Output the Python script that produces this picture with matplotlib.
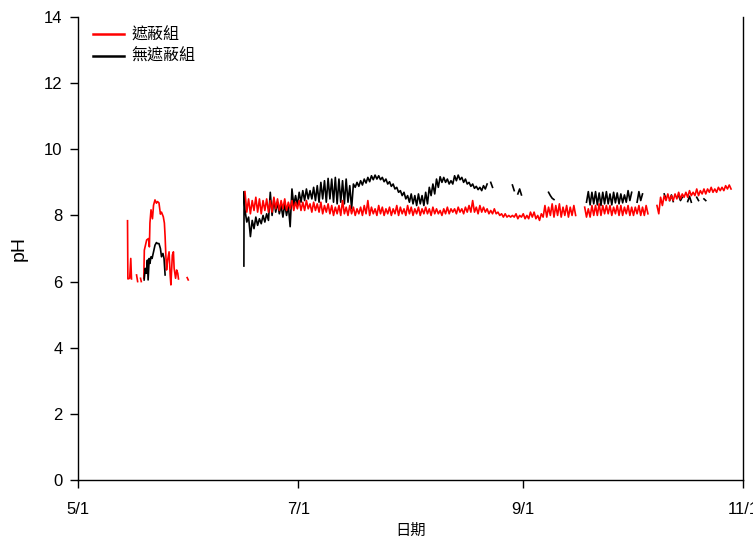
import numpy as np
import matplotlib
matplotlib.use("Agg")
import matplotlib.pyplot as plt

plt.rcParams["font.family"] = ["Liberation Sans", "Noto Sans CJK TC", "DejaVu Sans"]

nan = np.nan

# day offsets counted from 5/1
START = np.datetime64("2000-05-01")
tick_dates = ["2000-05-01", "2000-07-01", "2000-09-01", "2000-11-01"]
tick_labels = ["5/1", "7/1", "9/1", "11/1"]
legend_names = ["遮蔽組", "無遮蔽組"]

# early readings (May), NaN splits the broken pieces
red_early_day = [13.7, 13.8, 14.3, 14.6, 14.8, nan, 16.2, 16.5, nan, 17.3, 17.5, nan,
                 18.2, 18.35, 19.0, 19.5, 19.75, 19.9, 20.2, 20.6, 20.9, 21.3, 21.7,
                 22.0, 22.4, 22.8, 23.1, 23.6, 23.9, 24.1, 24.3, 24.5, 24.8, 25.2,
                 25.5, 25.7, 26.1, 26.4, 26.6, 27.0, 27.3, 27.6, 27.8, nan, 30.2, 30.5]
red_early_ph = [7.84, 6.08, 6.1, 6.7, 6.08, nan, 6.2, 6.0, nan, 6.1, 6.0, nan,
                6.1, 6.95, 7.26, 7.3, 7.05, 7.77, 8.17, 7.9, 8.31, 8.47, 8.37,
                8.42, 8.38, 8.04, 8.1, 7.96, 7.77, 7.36, 6.8, 6.35, 6.65, 6.9,
                6.2, 5.9, 6.8, 6.9, 6.4, 6.1, 6.35, 6.25, 6.08, nan, 6.12, 6.05]

black_early_day = [18.3, 18.6, 18.9, 19.2, 19.4, 19.7, 19.9, 20.2, 20.5, 20.9, 21.3,
                   21.7, 22.0, 22.4, 22.8, 23.1, 23.5, 23.8, 24.1]
black_early_ph = [6.05, 6.4, 6.25, 6.65, 6.05, 6.7, 6.55, 6.75, 6.7, 6.9, 7.1,
                  7.18, 7.15, 7.15, 7.0, 6.75, 6.85, 6.7, 6.2]

# continuous logging from day 46 (6/16): daily high / low
red_first_day = 46
red_hi = [8.72, 8.5, 8.45, 8.55, 8.5, 8.45, 8.5, 8.45, 8.55, 8.5,
          8.45, 8.5, 8.4, 8.45, 8.4, 8.45, 8.4, 8.45, 8.35, 8.4,
          8.35, 8.4, 8.3, 8.35, 8.3, 8.25, 8.3, 8.45, 8.25, 8.3,
          8.25, 8.2, 8.25, 8.3, 8.45, 8.25, 8.2, 8.3, 8.25, 8.2,
          8.25, 8.2, 8.3, 8.25, 8.2, 8.3, 8.25, 8.2, 8.25, 8.2,
          8.25, 8.2, 8.25, 8.2, 8.15, 8.2, 8.25, 8.2, 8.2, 8.25,
          8.2, 8.25, 8.3, 8.45, 8.25, 8.3, 8.25, 8.2, 8.15, 8.2,
          8.1, 8.05, 8.05, 8.0, 8.0, 8.05, 8.0, 8.05, 8.0, 8.1,
          8.1, 8.0, 8.05, 8.3, 8.25, 8.35, 8.3, 8.35, 8.25, 8.3,
          8.25, 8.3, nan, nan, 8.25, 8.2, 8.3, 8.3, 8.35, 8.3,
          8.3, 8.3, 8.25, 8.3, 8.3, 8.25, 8.3, 8.25, 8.25, 8.3,
          8.25, 8.3, nan, nan, 8.3, 8.55, 8.6, 8.65, 8.6, 8.65,
          8.7, 8.65, 8.7, 8.75, 8.7, 8.8, 8.75, 8.8, 8.8, 8.85,
          8.8, 8.85, 8.85, 8.9, 8.92]
red_lo = [8.1, 8.05, 8.15, 8.1, 8.05, 8.15, 8.1, 8.1, 8.2, 8.15,
          8.2, 8.15, 8.2, 8.15, 8.2, 8.15, 8.15, 8.2, 8.1, 8.15,
          8.1, 8.05, 8.1, 8.05, 8.0, 8.05, 8.0, 8.05, 8.0, 8.05,
          8.0, 8.05, 8.0, 8.05, 8.0, 8.05, 8.0, 8.05, 8.0, 8.05,
          8.0, 8.05, 8.0, 8.05, 8.0, 8.05, 8.0, 8.05, 8.0, 8.05,
          8.05, 8.0, 8.05, 8.05, 8.0, 8.05, 8.05, 8.1, 8.05, 8.1,
          8.05, 8.1, 8.1, 8.1, 8.05, 8.1, 8.1, 8.05, 8.05, 8.05,
          8.0, 7.95, 7.95, 7.95, 7.95, 7.9, 7.95, 7.9, 7.9, 7.95,
          7.9, 7.85, 7.95, 7.95, 8.0, 7.95, 8.0, 7.95, 8.0, 7.95,
          8.0, 8.0, nan, nan, 7.95, 7.95, 8.0, 8.0, 8.0, 8.05,
          8.05, 8.0, 8.05, 8.0, 8.0, 8.05, 8.0, 8.0, 8.05, 8.0,
          8.0, 8.05, nan, nan, 8.05, 8.3, 8.45, 8.45, 8.45, 8.5,
          8.5, 8.55, 8.55, 8.6, 8.6, 8.6, 8.65, 8.65, 8.7, 8.7,
          8.7, 8.75, 8.75, 8.8, 8.8]

black_start_ph = [6.47, 8.72]
black_first_day = 46
black_hi = [8.16, 7.95, 7.85, 7.95, 7.9, 8.0, 8.05, 8.7, 8.5, 8.4,
            8.3, 8.35, 8.3, 8.8, 8.6, 8.7, 8.75, 8.8, 8.75, 8.85,
            8.9, 9.0, 9.05, 9.12, 9.1, 9.15, 9.1, 9.05, 9.1, 8.9,
            8.95, 9.0, 9.05, 9.1, 9.15, 9.2, 9.22, 9.2, 9.15, 9.1,
            9.02, 8.95, 8.85, 8.75, 8.7, 8.6, 8.65, 8.6, 8.65, 8.6,
            8.7, 8.85, 8.95, 9.1, 9.17, 9.15, 9.1, 9.05, 9.2, 9.22,
            9.15, 9.1, 9.0, 8.95, 8.88, 8.85, 8.9, 8.95, 9.0, nan,
            nan, nan, nan, nan, 8.92, nan, 8.8, nan, nan, nan,
            nan, nan, nan, nan, 8.7, 8.52, nan, nan, nan, nan,
            nan, nan, nan, nan, nan, 8.72, 8.7, 8.72, 8.68, 8.7,
            8.72, 8.65, 8.7, 8.68, 8.65, 8.62, 8.75, 8.7, nan, 8.72,
            8.65, nan, nan, nan, nan, 8.6, 8.65, nan, 8.62, nan,
            8.6, 8.55, nan, 8.58, nan, 8.55, nan, 8.5, nan]
black_lo = [7.8, 7.36, 7.6, 7.7, 7.75, 7.8, 7.85, 8.0, 8.1, 8.05,
            7.95, 8.0, 7.66, 8.3, 8.3, 8.4, 8.45, 8.5, 8.5, 8.45,
            8.4, 8.5, 8.4, 8.5, 8.4, 8.35, 8.4, 8.35, 8.4, 8.2,
            8.85, 8.88, 8.92, 8.98, 9.02, 9.08, 9.1, 9.08, 9.02, 8.95,
            8.88, 8.8, 8.7, 8.6, 8.5, 8.4, 8.35, 8.3, 8.35, 8.3,
            8.35, 8.6, 8.65, 8.85, 9.0, 9.0, 8.95, 8.95, 9.05, 9.08,
            9.0, 8.95, 8.88, 8.82, 8.78, 8.75, 8.8, nan, 8.85, nan,
            nan, nan, nan, nan, 8.75, 8.65, 8.62, nan, nan, nan,
            nan, nan, nan, nan, 8.6, 8.48, nan, nan, nan, nan,
            nan, nan, nan, nan, 8.4, 8.32, 8.35, 8.32, 8.3, 8.35,
            8.35, 8.32, 8.38, 8.35, 8.38, 8.4, 8.45, nan, 8.4, 8.45,
            nan, 8.5, nan, nan, nan, nan, 8.5, 8.45, 8.42, nan,
            8.45, nan, 8.42, 8.4, nan, 8.45, nan, 8.45, 8.45]


def daily_series(first_day, hi, lo):
    days = first_day + np.arange(len(hi))
    t = np.column_stack([days + 0.2, days + 0.7]).ravel()
    v = np.column_stack([hi, lo]).ravel()
    return t, v


red_t, red_v = daily_series(red_first_day, red_hi, red_lo)
black_t, black_v = daily_series(black_first_day, black_hi, black_lo)
black_t = np.concatenate([[black_first_day - 0.1, black_first_day - 0.05], black_t])
black_v = np.concatenate([black_start_ph, black_v])

tick_pos = [(np.datetime64(d) - START).astype(int) for d in tick_dates]

fig = plt.figure(figsize=(7.53, 5.40), dpi=100)
ax = fig.add_axes([0.1036, 0.1111, 0.8831, 0.8574])

ax.plot(red_early_day, red_early_ph, color="#ff0000", lw=1.2)
ax.plot(black_early_day, black_early_ph, color="black", lw=1.2)
ax.plot(black_t, black_v, color="black", lw=1.2)
ax.plot(red_t, red_v, color="#ff0000", lw=1.2)

ax.set_xlim(tick_pos[0], tick_pos[-1])
ax.set_ylim(0, 14)
ax.set_xticks(tick_pos)
ax.set_xticklabels(tick_labels)
ax.set_yticks(np.arange(0, 15, 2))
ax.tick_params(direction="out", length=6, width=1, labelsize=12, colors="black")
ax.tick_params(axis="x", pad=10)
ax.tick_params(axis="y", pad=5)

ax.spines["top"].set_visible(False)
for side in ["left", "bottom", "right"]:
    ax.spines[side].set_linewidth(1)

ax.set_ylabel("pH", fontsize=14, labelpad=12)
ax.set_xlabel("日期", fontsize=11, labelpad=3, family=["Noto Sans CJK TC", "DejaVu Sans"])

handles = [plt.Line2D([], [], color="#ff0000", lw=1.8),
           plt.Line2D([], [], color="black", lw=1.8)]
ax.legend(handles, legend_names, loc="upper left", frameon=False,
          prop={"family": ["Noto Sans CJK TC"], "size": 11.5},
          handlelength=1.9, handletextpad=0.5, labelspacing=0.3,
          borderaxespad=0.3, bbox_to_anchor=(0.006, 1.004))

fig.savefig("out.png", dpi=100)
